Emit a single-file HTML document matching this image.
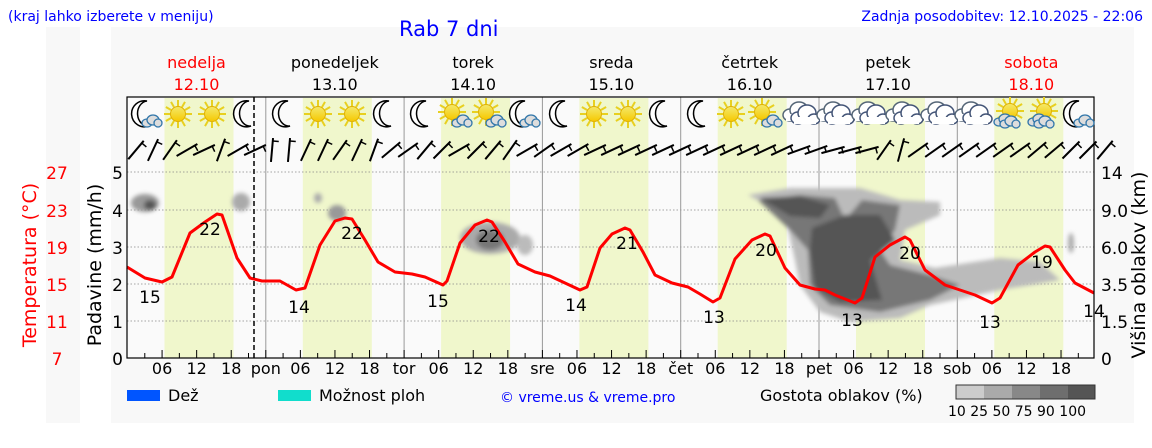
<!DOCTYPE html>
<html><head><meta charset="utf-8"><style>
body{margin:0;background:#fff;width:1152px;height:443px;overflow:hidden;font-family:"Liberation Sans",sans-serif}
svg text{font-family:"DejaVu Sans","Liberation Sans",sans-serif}
</style></head><body>
<svg id="s" width="1152" height="443" xmlns="http://www.w3.org/2000/svg">
<defs>
<filter id="bl" x="-20%" y="-20%" width="140%" height="140%"><feGaussianBlur stdDeviation="2"/></filter>
<linearGradient id="sg" x1="0" y1="0" x2="0" y2="1"><stop offset="0" stop-color="#f3e96a"/><stop offset="1" stop-color="#f6c800"/></linearGradient>
</defs>
<rect x="46" y="27" width="34" height="396" fill="#f8f8f8"/>
<rect x="111" y="27" width="1023" height="396" fill="#f8f8f8"/>
<rect x="127" y="97" width="967" height="261" fill="#fafafa"/>
<g id="bands"></g>
<g id="grid"></g>
<g id="clouds" filter="url(#bl)">
<ellipse cx="145" cy="203" rx="14" ry="9" fill="#999"/><ellipse cx="150" cy="205" rx="6" ry="5" fill="#555"/>
<ellipse cx="241" cy="202" rx="9" ry="9" fill="#aaa"/>
<ellipse cx="318" cy="198" rx="4" ry="5" fill="#aaa"/><ellipse cx="337" cy="213" rx="9" ry="8" fill="#999"/>
<ellipse cx="490" cy="238" rx="30" ry="16" fill="#aaa"/><ellipse cx="490" cy="240" rx="14" ry="10" fill="#777"/><ellipse cx="525" cy="245" rx="8" ry="10" fill="#bbb"/>
<polygon points="748,195 790,188 860,188 900,200 940,202 940,215 905,230 900,260 935,268 1000,258 1040,262 1060,280 1000,290 930,305 900,318 850,322 820,312 800,285 795,260 785,215" fill="#bbb"/>
<polygon points="758,200 800,195 835,198 845,220 862,200 900,205 895,230 880,250 890,265 930,275 960,285 930,300 880,312 830,305 810,285 808,250 790,230" fill="#777"/>
<polygon points="812,228 845,215 880,215 895,240 870,260 882,300 840,302 815,288 810,250" fill="#555"/>
<polygon points="760,198 800,196 830,205 820,218 790,216" fill="#555"/>
<ellipse cx="1071" cy="243" rx="3" ry="10" fill="#aaa"/>
</g>
<path id="temp" fill="none" stroke="#f00" stroke-width="3" stroke-linejoin="round"/>
<rect x="127" y="97" width="967" height="261" fill="none" stroke="#000" stroke-width="1.2"/>
<line x1="254" y1="97" x2="254" y2="358" stroke="#000" stroke-width="1.5" stroke-dasharray="5,3"/>
<g id="icons"></g>
<g id="barbs" stroke="#000" stroke-width="2" fill="none"></g>
<g id="txt" font-size="16"></g>
<g font-size="17" fill="#000">
<text x="150" y="303" text-anchor="middle">15</text><text x="210" y="235" text-anchor="middle">22</text>
<text x="299" y="313" text-anchor="middle">14</text><text x="352" y="239" text-anchor="middle">22</text>
<text x="438" y="307" text-anchor="middle">15</text><text x="489" y="242" text-anchor="middle">22</text>
<text x="576" y="311" text-anchor="middle">14</text><text x="627" y="249" text-anchor="middle">21</text>
<text x="714" y="323" text-anchor="middle">13</text><text x="766" y="256" text-anchor="middle">20</text>
<text x="852" y="326" text-anchor="middle">13</text><text x="910" y="259" text-anchor="middle">20</text>
<text x="990" y="328" text-anchor="middle">13</text><text x="1042" y="268" text-anchor="middle">19</text>
<text x="1094" y="317" text-anchor="middle">14</text>
</g>
<text x="8" y="21" font-size="14" fill="#00f">(kraj lahko izberete v meniju)</text>
<text x="399" y="36" font-size="21" fill="#00f">Rab 7 dni</text>
<text x="1143" y="21" font-size="14" fill="#00f" text-anchor="end">Zadnja posodobitev: 12.10.2025 - 22:06</text>
<text transform="translate(36,265) rotate(-90)" font-size="19" fill="#f00" text-anchor="middle">Temperatura (°C)</text>
<text transform="translate(101,265) rotate(-90)" font-size="19" fill="#000" text-anchor="middle">Padavine (mm/h)</text>
<text transform="translate(1145,265) rotate(-90)" font-size="19" fill="#000" text-anchor="middle">Višina oblakov (km)</text>
<rect x="127" y="390" width="33" height="11" fill="#0055ff"/><text x="168" y="401" font-size="16">Dež</text>
<rect x="278" y="390" width="33" height="11" fill="#11ddcc"/><text x="319" y="401" font-size="16">Možnost ploh</text>
<text x="500" y="402" font-size="14" fill="#00f">© vreme.us &amp; vreme.pro</text>
<text x="760" y="401" font-size="16">Gostota oblakov (%)</text>
<rect x="956" y="385" width="28" height="14" fill="#ccc"/><rect x="984" y="385" width="28" height="14" fill="#aaa"/><rect x="1012" y="385" width="28" height="14" fill="#888"/><rect x="1040" y="385" width="28" height="14" fill="#6e6e6e"/><rect x="1068" y="385" width="27" height="14" fill="#555"/>
<rect x="956" y="385" width="139" height="14" fill="none" stroke="#333"/>
<text x="1017" y="416" font-size="14" text-anchor="middle">10 25 50 75 90 100</text>
</svg>
<script>
const NS="http://www.w3.org/2000/svg",$=id=>document.getElementById(id);
function el(p,t,a,txt){const e=document.createElementNS(NS,t);for(const k in a)e.setAttribute(k,a[k]);if(txt!==undefined)e.textContent=txt;$(p).appendChild(e);return e;}
const m0=127.5,D=138.3,H=D/24;
for(let k=0;k<7;k++){let a=m0+D*k+37,b=Math.min(m0+D*k+106,1094);el('bands','rect',{x:a,y:98,width:b-a,height:260,fill:'#f0f7cc'});}
[172,210,247,284,321].forEach(y=>el('grid','line',{x1:127,x2:1094,y1:y,y2:y,stroke:'#888','stroke-width':0.8,'stroke-dasharray':'1.5,2'}));
for(let k=1;k<7;k++){let x=m0+D*k;el('grid','line',{x1:x,x2:x,y1:97,y2:358,stroke:'#999','stroke-width':1});}
for(let h=3;h<7*24;h+=3){let x=m0+h*H;if(x<127||x>1094)continue;el('grid','line',{x1:x,x2:x,y1:358,y2:h%6?353:350,stroke:'#000','stroke-width':1});}
const days=["nedelja","ponedeljek","torek","sreda","četrtek","petek","sobota"],ab=["pon","tor","sre","čet","pet","sob"];
for(let k=0;k<7;k++){let c=m0+69+D*k+(k==6?5:0),red=(k==0||k==6);
el('txt','text',{x:c,y:68,'text-anchor':'middle',fill:red?'#f00':'#000'},days[k]);
el('txt','text',{x:c,y:90,'text-anchor':'middle',fill:red?'#f00':'#000'},(12+k)+".10");
[6,12,18].forEach(h=>el('txt','text',{x:m0+D*k+h*H,y:374,'text-anchor':'middle'},String(h).padStart(2,'0')));
if(k<6)el('txt','text',{x:m0+D*(k+1),y:374,'text-anchor':'middle'},ab[k]);}
[27,23,19,15,11,7].forEach((t,i)=>el('txt','text',{x:57,y:[172,210,247,284,321,358][i]+7,'text-anchor':'middle',fill:'#f00',style:'font-size:17px'},t));
[5,4,3,2,1,0].forEach((t,i)=>el('txt','text',{x:123,y:[172,210,247,284,321,358][i]+7,'text-anchor':'end',style:'font-size:17px'},t));
["14","9.0","6.0","3.5","1.5","0"].forEach((t,i)=>el('txt','text',{x:1101,y:[172,210,247,284,321,358][i]+7,style:'font-size:17px'},t));
const pts=[[127,267],[145,278],[162,282],[172,277],[190,233],[205,222],[217,214],[222,215],[237,258],[250,278],[262,281],[280,281],[296,290],[305,288],[320,245],[335,221],[345,218],[352,219],[365,240],[378,262],[395,272],[412,274],[425,277],[443,285],[447,281],[460,243],[475,225],[487,220],[492,222],[505,242],[518,264],[535,272],[550,276],[565,283],[580,290],[587,287],[600,248],[612,234],[625,228],[630,230],[643,252],[655,275],[672,283],[688,287],[700,294],[713,302],[720,298],[735,259],[752,240],[765,234],[770,236],[785,268],[800,285],[815,289],[825,290],[835,295],[855,303],[862,298],[875,257],[890,245],[905,237],[910,240],[925,270],[945,285],[960,290],[975,295],[992,303],[1000,298],[1018,265],[1035,252],[1045,246],[1050,247],[1065,270],[1075,283],[1094,293]];
$('temp').setAttribute('d','M'+pts.map(p=>p.join(',')).join(' L'));
function sun(x,y){let g='';for(let i=0;i<12;i++){let a=i*Math.PI/6;g+=`<line x1="${x+8*Math.cos(a)}" y1="${y+8*Math.sin(a)}" x2="${x+14*Math.cos(a)}" y2="${y+14*Math.sin(a)}" stroke="#e8d020" stroke-width="2"/>`;}return g+`<circle cx="${x}" cy="${y}" r="7.5" fill="url(#sg)" stroke="#e0b000"/>`;}
function moon(x,y){return `<path d="M${x+3},${y-13} A13,13 0 1 0 ${x+5},${y+12} A10,12 0 1 1 ${x+3},${y-13}Z" fill="#fff" stroke="#000" stroke-width="1.5"/>`;}
function cloud(x,y,c){return `<g fill="#fff" stroke="${c}" stroke-width="1.5"><ellipse cx="${x-6}" cy="${y+3}" rx="7" ry="6"/><ellipse cx="${x+3}" cy="${y-2}" rx="9" ry="8"/><ellipse cx="${x+10}" cy="${y+4}" rx="6" ry="5"/><rect x="${x-10}" y="${y+2}" width="22" height="7" stroke="none"/></g>`;}
function smallc(x,y){return `<g fill="#ddd" stroke="#37a" stroke-width="1.3"><ellipse cx="${x-4}" cy="${y+2}" rx="5" ry="4"/><ellipse cx="${x+2}" cy="${y-1}" rx="6" ry="5"/><ellipse cx="${x+7}" cy="${y+2}" rx="4" ry="4"/></g>`;}
const ic=[[146,'mc'],[178,'s'],[212,'s'],[246,'m'],[285,'m'],[318,'s'],[352,'s'],[386,'m'],[423,'m'],[455,'sc'],[489,'sc'],[524,'mc'],[562,'m'],[594,'s'],[628,'s'],[662,'m'],[700,'m'],[731,'s'],[765,'sc'],[800,'c'],[834,'c'],[869,'c'],[903,'c'],[938,'c'],[972,'c'],[1007,'csun'],[1041,'csun'],[1078,'mc']];
let h='';ic.forEach(([x,t])=>{let y=114;if(t=='s')h+=sun(x,y);if(t=='m')h+=moon(x,y);if(t=='mc')h+=moon(x-2,y)+smallc(x+5,y+7);if(t=='sc')h+=sun(x-3,y-2)+smallc(x+6,y+7);if(t=='c')h+=cloud(x-4,y-2,'#567')+cloud(x+4,y+1,'#457');if(t=='csun')h+=sun(x+3,y-3)+smallc(x-4,y+6)+smallc(x+2,y+8);});
$('icons').innerHTML=h;
let b='';const ang=[50,65,55,30,25,70,30,25,85,85,65,65,55,65,70,40,35,50,45,30,45,50,55,30,35,30,30,25,25,25,25,25,25,25,25,25,25,25,25,20,20,15,15,15,55,75,35,35,35,35,35,35,35,40,40,45,45,50,55,80,85,20,15];
for(let i=0;i<58;i++){let x=136+i*17,y=150,a=(ang[i%ang.length])*Math.PI/180,L=24;let x1=x-L/2*Math.cos(a),y1=y+L/2*Math.sin(a),x2=x+L/2*Math.cos(a),y2=y-L/2*Math.sin(a);
b+=`<line x1="${x1}" y1="${y1}" x2="${x2}" y2="${y2}"/><line x1="${x2-3*Math.cos(a)}" y1="${y2+3*Math.sin(a)}" x2="${x2-3*Math.cos(a)+6*Math.sin(a)}" y2="${y2+3*Math.sin(a)+6*Math.cos(a)}" stroke-width="1.5"/>`;}
$('barbs').innerHTML=b;
</script>
</body></html>
